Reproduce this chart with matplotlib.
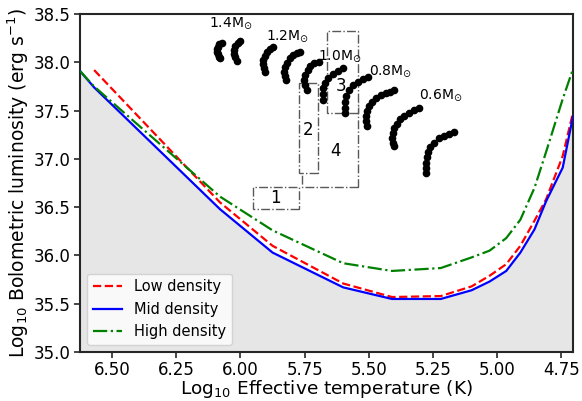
import numpy as np
import matplotlib
matplotlib.use("Agg")
import matplotlib.pyplot as plt
from matplotlib.patches import Rectangle

# model curves (log T_eff, log L_bol)
log_t = [6.625, 6.57, 6.08, 5.875, 5.60, 5.41, 5.22, 5.10, 5.03, 4.965, 4.91, 4.855, 4.81, 4.745, 4.705]
low_density = [np.nan, 37.92, 36.55, 36.10, 35.71, 35.57, 35.58, 35.68, 35.79, 35.91, 36.10, 36.36, 36.58, 37.03, 37.48]
mid_density = [37.91, 37.74, 36.48, 36.03, 35.67, 35.55, 35.55, 35.64, 35.73, 35.84, 36.03, 36.27, 36.56, 36.91, 37.44]
high_density = [37.91, 37.75, 36.61, 36.26, 35.92, 35.84, 35.87, 35.98, 36.05, 36.18, 36.37, 36.70, 37.07, 37.62, 37.93]

# evolutionary tracks, two per mass
track_t = [
    [6.072, 6.083, 6.089, 6.093, 6.092, 6.088, 6.083, 6.079],
    [6.002, 6.011, 6.020, 6.025, 6.025, 6.020, 6.014],
    [5.872, 5.885, 5.897, 5.906, 5.911, 5.911, 5.907, 5.904],
    [5.768, 5.781, 5.794, 5.807, 5.818, 5.826, 5.829, 5.828, 5.823],
    [5.696, 5.712, 5.728, 5.739, 5.748, 5.751, 5.748, 5.742],
    [5.602, 5.622, 5.641, 5.658, 5.670, 5.677, 5.680, 5.677],
    [5.505, 5.524, 5.544, 5.563, 5.579, 5.589, 5.594, 5.594, 5.592],
    [5.401, 5.417, 5.433, 5.452, 5.472, 5.488, 5.501, 5.509, 5.511, 5.511, 5.509],
    [5.303, 5.323, 5.342, 5.362, 5.378, 5.392, 5.401, 5.407, 5.410, 5.407, 5.404],
    [5.167, 5.186, 5.206, 5.225, 5.245, 5.260, 5.271, 5.275, 5.277, 5.277, 5.276],
]
track_l = [
    [38.205, 38.189, 38.161, 38.137, 38.112, 38.085, 38.057, 38.040],
    [38.216, 38.199, 38.164, 38.127, 38.091, 38.050, 38.016],
    [38.154, 38.137, 38.102, 38.068, 38.023, 37.981, 37.940, 37.905],
    [38.112, 38.096, 38.075, 38.040, 37.998, 37.953, 37.905, 37.860, 37.815],
    [38.008, 37.988, 37.957, 37.919, 37.870, 37.819, 37.767, 37.712],
    [37.940, 37.912, 37.884, 37.842, 37.791, 37.732, 37.670, 37.608],
    [37.850, 37.826, 37.801, 37.767, 37.712, 37.653, 37.593, 37.531, 37.479],
    [37.712, 37.697, 37.681, 37.660, 37.629, 37.593, 37.549, 37.497, 37.445, 37.393, 37.341],
    [37.525, 37.504, 37.479, 37.445, 37.411, 37.365, 37.324, 37.272, 37.220, 37.168, 37.134],
    [37.282, 37.261, 37.238, 37.214, 37.168, 37.124, 37.075, 37.020, 36.961, 36.903, 36.854],
]
mass_labels = ['1.4', '1.2', '1.0', '0.8', '0.6']
mass_label_t = [6.122, 5.900, 5.697, 5.498, 5.303]
mass_label_l = [38.41, 38.275, 38.068, 37.912, 37.663]

# observed regions: (logT hot, logT cool), (logL low, logL high), label position
box_names = ['4', '2', '3', '1']
box_t = [(5.760, 5.541), (5.774, 5.697), (5.664, 5.541), (5.953, 5.774)]
box_l = [(36.709, 37.619), (36.851, 37.790), (37.478, 38.320), (36.477, 36.709)]
box_label_t = [5.631, 5.736, 5.607, 5.862]
box_label_l = [37.08, 37.30, 37.756, 36.594]

fig, ax = plt.subplots(figsize=(5.82, 4.01), dpi=100)
fig.subplots_adjust(left=0.1375, right=0.9845, bottom=0.122, top=0.965)

ax.fill_between(log_t, mid_density, 35.0, color='0.9', zorder=0)

# boxes drawn in order with white faces, so later ones hide parts of earlier ones
for (t0, t1), (l0, l1) in zip(box_t, box_l):
    ax.add_patch(Rectangle((t1, l0), t0 - t1, l1 - l0, facecolor='white',
                           edgecolor='0.35', linestyle='-.', linewidth=1.0, zorder=2))
for name, tx, ly in zip(box_names, box_label_t, box_label_l):
    ax.text(tx, ly, name, fontsize=12, ha='center', va='center', zorder=3)

ax.plot(log_t, low_density, 'r--', lw=1.6, label='Low density', zorder=4)
ax.plot(log_t, mid_density, 'b-', lw=1.6, label='Mid density', zorder=4)
ax.plot(log_t, high_density, 'g-.', lw=1.6, label='High density', zorder=4)

for tt, ll in zip(track_t, track_l):
    ax.plot(tt, ll, 'o', color='black', ms=4.5, zorder=5)
for m, tx, ly in zip(mass_labels, mass_label_t, mass_label_l):
    ax.text(tx, ly, m + r'M$_{\odot}$', fontsize=10, ha='left', va='center', zorder=6)

ax.set_xlim(log_t[0], log_t[-1])
ax.set_ylim(35.0, 38.5)
ax.set_xticks([6.50, 6.25, 6.00, 5.75, 5.50, 5.25, 5.00, 4.75])
ax.set_xticklabels(['6.50', '6.25', '6.00', '5.75', '5.50', '5.25', '5.00', '4.75'])
ax.set_yticks([35.0, 35.5, 36.0, 36.5, 37.0, 37.5, 38.0, 38.5])
ax.set_yticklabels(['35.0', '35.5', '36.0', '36.5', '37.0', '37.5', '38.0', '38.5'])
ax.tick_params(labelsize=12, length=4.5, width=1.2, pad=2, color='0.15', direction='out')
for s in ax.spines.values():
    s.set_linewidth(1.5)
    s.set_color('0.15')

ax.set_xlabel(r'Log$_{10}$ Effective temperature (K)', fontsize=13.3, labelpad=-1)
ax.set_ylabel(r'Log$_{10}$ Bolometric luminosity (erg s$^{-1}$)', fontsize=13.5, labelpad=2)
ax.legend(loc='lower left', fontsize=10.5)

fig.savefig('out.png', dpi=100)
